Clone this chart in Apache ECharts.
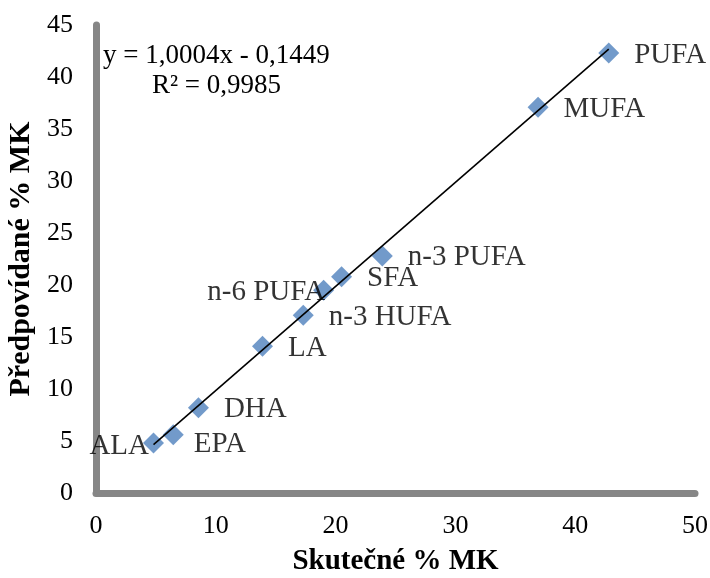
<!DOCTYPE html>
<html>
<head>
<meta charset="utf-8">
<script src="https://cdn.jsdelivr.net/npm/echarts@6/dist/echarts.min.js"></script>
<style>
  html, body { margin: 0; padding: 0; background: #ffffff; }
  #chart { width: 710px; height: 578px; }
</style>
</head>
<body>
<div id="chart"></div>
<script>
// Fatty acid groups: measured vs. predicted content (% of total fatty acids)
const names     = ['ALA', 'EPA', 'DHA', 'LA', 'n-3 HUFA', 'n-6 PUFA', 'SFA', 'n-3 PUFA', 'MUFA', 'PUFA'];
const measured  = [4.8, 6.45, 8.55, 13.9, 17.3, 19.0, 20.5, 23.9, 36.9, 42.8];
const predicted = [4.8, 5.6, 8.2, 14.1, 17.1, 19.5, 20.8, 22.8, 37.1, 42.3];

// Linear trend line as stated in the equation label
const slope = 1.0004;
const intercept = -0.1449;
const rSquared = 0.9985;

const xTicks = { min: 0, max: 50, interval: 10 };
const yTicks = { min: 0, max: 45, interval: 5 };

const fmt = v => v.toFixed(4).replace('.', ',');
const eqText = 'y = ' + fmt(slope) + 'x - ' + fmt(Math.abs(intercept));
const r2Text = 'R² = ' + fmt(rSquared);

const xMin = Math.min(...measured);
const xMax = Math.max(...measured);
const trend = [[xMin, slope * xMin + intercept], [xMax, slope * xMax + intercept]];

// per-point label placement
const labelPlace = {
  'ALA':      { position: 'left', distance: -6, offset: [0, 3] },
  'EPA':      { position: 'right', distance: 10, offset: [0, 10] },
  'n-6 PUFA': { position: 'left', distance: -10, offset: [2, 2] }
};

const points = names.map((n, i) => {
  const p = labelPlace[n] || { position: 'right', distance: 15, offset: [0, 2] };
  return {
    value: [measured[i], predicted[i]],
    name: n,
    label: { position: p.position, distance: p.distance, offset: p.offset }
  };
});

const serif = '"Liberation Serif", "Times New Roman", serif';
const axisGray = '#868686';

const chart = echarts.init(document.getElementById('chart'), null, { renderer: 'canvas' });
chart.setOption({
  animation: false,
  backgroundColor: '#ffffff',
  grid: { left: 96, right: 15, top: 25, bottom: 85, outerBoundsMode: 'none', containLabel: false },
  xAxis: {
    type: 'value',
    min: xTicks.min, max: xTicks.max, interval: xTicks.interval,
    name: 'Skutečné % MK',
    nameLocation: 'middle',
    nameGap: 54,
    nameTextStyle: { fontFamily: serif, fontSize: 29, fontWeight: 'bold', color: '#000' },
    axisLine: { show: true, lineStyle: { color: axisGray, width: 7 } },
    axisTick: { show: false },
    splitLine: { show: false },
    axisLabel: { fontFamily: serif, fontSize: 26, color: '#000', margin: 20 }
  },
  yAxis: {
    type: 'value',
    min: yTicks.min, max: yTicks.max, interval: yTicks.interval,
    name: 'Předpovídané % MK',
    nameLocation: 'middle',
    nameGap: 57,
    nameTextStyle: { fontFamily: serif, fontSize: 30, fontWeight: 'bold', color: '#000' },
    axisLine: { show: true, lineStyle: { color: axisGray, width: 7 } },
    axisTick: { show: false },
    splitLine: { show: false },
    axisLabel: { fontFamily: serif, fontSize: 26, color: '#000', margin: 23 }
  },
  series: [
    {
      type: 'line',
      data: trend,
      symbol: 'none',
      lineStyle: { color: '#000', width: 1.6 },
      z: 3
    },
    {
      type: 'scatter',
      data: points,
      symbol: 'diamond',
      symbolSize: [21, 21],
      itemStyle: { color: '#4f81bd' },
      label: {
        show: true,
        formatter: p => p.name,
        fontFamily: serif,
        fontSize: 29,
        color: '#000'
      },
      z: 2
    }
  ],
  graphic: [
    {
      type: 'text',
      left: 103, top: 42,
      style: { text: eqText, font: '27px ' + serif, fill: '#000' }
    },
    {
      type: 'text',
      left: 152, top: 72,
      style: { text: r2Text, font: '27px ' + serif, fill: '#000' }
    }
  ]
});
</script>
</body>
</html>
